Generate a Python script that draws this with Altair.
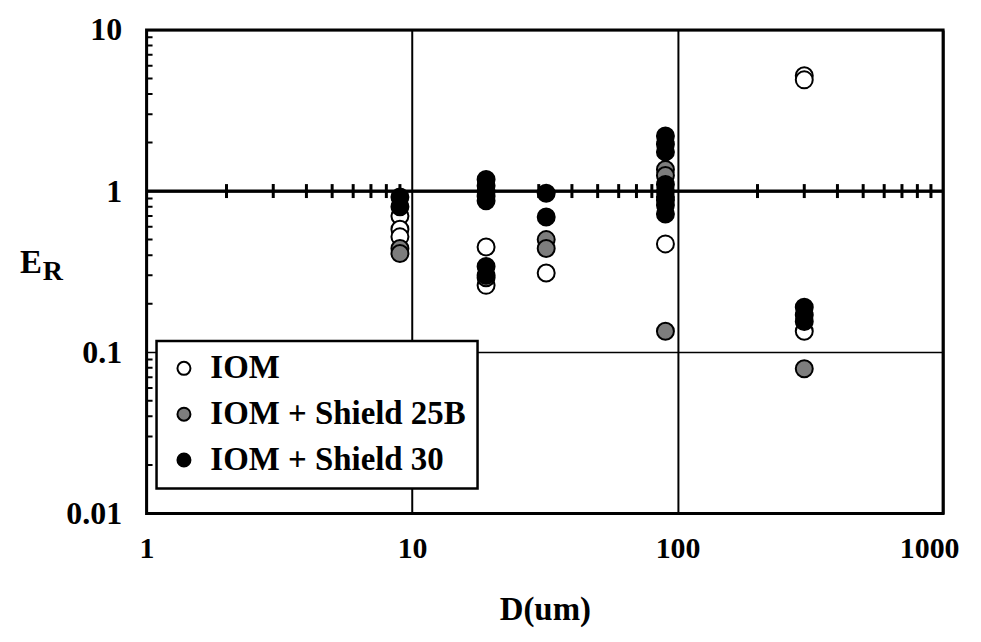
import altair as alt
import pandas as pd

# ---- data (D in um, E_R) ----
iom_d = [9, 9, 9, 19, 19, 32, 90, 90, 300, 300, 300]
iom_er = [0.70, 0.58, 0.52, 0.45, 0.26, 0.31, 0.88, 0.47, 5.2, 4.9, 0.135]

s25_d = [9, 9, 19, 32, 32, 90, 90, 90, 300]
s25_er = [0.44, 0.41, 0.29, 0.50, 0.44, 1.36, 1.25, 0.135, 0.079]

s30_d = [9, 9, 19, 19, 19, 19, 19, 19, 19, 32, 32,
         90, 90, 90, 90, 90, 90, 90, 90, 300, 300, 300]
s30_er = [0.92, 0.80, 1.18, 1.08, 1.0, 0.93, 0.87, 0.34, 0.30, 0.97, 0.69,
          2.2, 1.95, 1.75, 1.1, 1.0, 0.92, 0.82, 0.72, 0.19, 0.17, 0.155]

series_names = ["IOM", "IOM + Shield 25B", "IOM + Shield 30"]
series_fill = ["white", "#7d7d7d", "black"]

x_ticks = [1, 10, 100, 1000]
y_ticks = [0.01, 0.1, 1, 10]
x_minor = [2, 3, 4, 5, 6, 7, 8, 9, 20, 30, 40, 50, 60, 70, 80, 90,
           200, 300, 400, 500, 600, 700, 800, 900]
y_minor = [0.02, 0.03, 0.04, 0.05, 0.06, 0.07, 0.08, 0.09,
           0.2, 0.3, 0.4, 0.5, 0.6, 0.7, 0.8, 0.9,
           2, 3, 4, 5, 6, 7, 8, 9]
cross_line = [1]
ylabel_main = ["E"]
ylabel_sub = ["R"]

FONT = "Liberation Serif"

df = pd.DataFrame({
    "D": iom_d + s25_d + s30_d,
    "ER": iom_er + s25_er + s30_er,
    "series": [series_names[0]] * len(iom_d)
              + [series_names[1]] * len(s25_d)
              + [series_names[2]] * len(s30_d),
})

xenc = alt.X(
    "D:Q",
    scale=alt.Scale(type="log", domain=[1, 1000], nice=False),
    axis=alt.Axis(values=x_ticks, format="~g", title="D(um)", grid=True,
                  gridColor="black", gridWidth=2, gridOpacity=1, ticks=False,
                  domain=False, labelPadding=20, labelFlush=False, titleY=80,
                  labelFontSize=30,
                  labelOffset={"condition": {"test": "datum.value >= 1000", "value": -14},
                               "value": 0}),
)
yenc = alt.Y(
    "ER:Q",
    scale=alt.Scale(type="log", domain=[0.01, 10], nice=False),
    axis=alt.Axis(values=y_ticks, format="~g", title=None, grid=True,
                  gridColor="black", gridWidth=1.5, gridOpacity=1, ticks=False,
                  domain=False, labelPadding=25, labelFlush=False),
)

rule = alt.Chart(pd.DataFrame({"ER": cross_line})).mark_rule(
    color="black", strokeWidth=3
).encode(y=yenc)

cross_ticks = alt.Chart(
    pd.DataFrame({"D": x_minor, "ER": cross_line * len(x_minor)})
).mark_tick(orient="vertical", size=14, thickness=3, color="black", opacity=1).encode(
    x=xenc, y=yenc
)

left_ticks = alt.Chart(
    pd.DataFrame({"D": [1] * len(y_minor), "ER": y_minor})
).mark_tick(orient="horizontal", size=12, thickness=2, color="black",
            opacity=1, clip=True).encode(x=xenc, y=yenc)

points = alt.Chart(df).mark_point(
    shape="circle", filled=True, size=290, stroke="black", strokeWidth=2,
    opacity=1, fillOpacity=1
).encode(
    x=xenc,
    y=yenc,
    fill=alt.Fill(
        "series:N",
        scale=alt.Scale(domain=series_names, range=series_fill),
        legend=alt.Legend(
            title=None, orient="none", legendX=10, legendY=312,
            symbolType="circle", symbolSize=170, symbolStrokeColor="black",
            symbolStrokeWidth=2, labelFont=FONT, labelFontSize=33,
            labelFontWeight="bold", labelColor="black", labelLimit=400,
            labelOffset=10, rowPadding=12, padding=11,
            fillColor="white", strokeColor="black",
        ),
    ),
)

title_e = alt.Chart(pd.DataFrame({"t": ylabel_main})).mark_text(
    font=FONT, fontSize=33, fontWeight="bold", align="center",
    baseline="alphabetic", color="black"
).encode(x=alt.value(-116), y=alt.value(244), text="t:N")

title_r = alt.Chart(pd.DataFrame({"t": ylabel_sub})).mark_text(
    font=FONT, fontSize=28, fontWeight="bold", align="center",
    baseline="alphabetic", color="black"
).encode(x=alt.value(-94), y=alt.value(251), text="t:N")

chart = alt.layer(rule, cross_ticks, left_ticks, points, title_e, title_r).properties(
    width=799,
    height=485,
    padding={"left": 139, "top": 21, "right": 30, "bottom": 120},
    autosize=alt.AutoSizeParams(type="none"),
    background="white",
).configure_view(
    stroke="black", strokeWidth=3
).configure_axis(
    labelFont=FONT, labelFontSize=32, labelFontWeight="bold", labelColor="black",
    titleFont=FONT, titleFontSize=33, titleFontWeight="bold", titleColor="black",
).configure_legend(
    strokeWidth=2.5
)

chart.save("out.html", embed_options={"renderer": "svg", "actions": False})
